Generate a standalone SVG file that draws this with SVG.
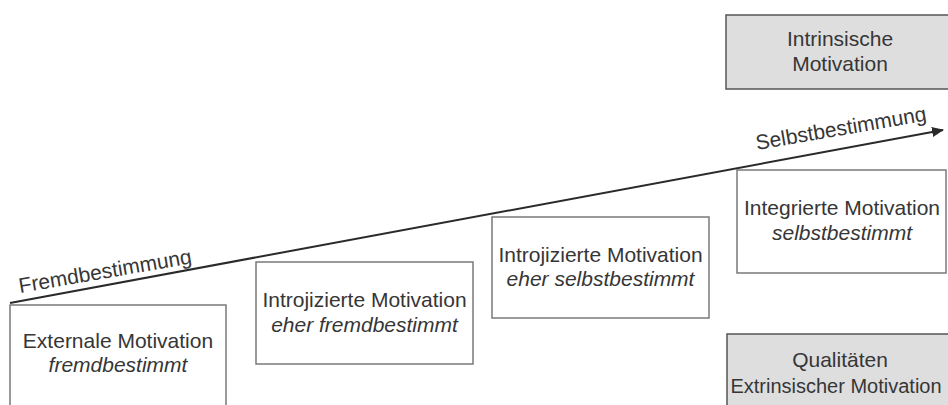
<svg xmlns="http://www.w3.org/2000/svg" width="948" height="405" viewBox="0 0 948 405">
<style>
  .box { fill: #ffffff; stroke: #7a7a7a; stroke-width: 1.5; }
  .gbox { fill: #dedede; stroke: #555555; stroke-width: 1.5; }
  text { font-family: "Liberation Sans", Arial, sans-serif; font-size: 21px; fill: #363636; text-anchor: middle; }
  .it { font-style: italic; }
  .lbl { text-anchor: start; }
</style>
<defs>
  <marker id="arrow" markerWidth="12" markerHeight="10" refX="11" refY="5" orient="auto" markerUnits="userSpaceOnUse">
    <path d="M0,0 L12,5 L0,10 Z" fill="#2a2a2a"/>
  </marker>
</defs>
<rect width="948" height="405" fill="#ffffff"/>
<g id="intrinsisch">
  <rect class="gbox" x="726" y="15" width="230" height="74"/>
  <text x="840" y="46">Intrinsische</text>
  <text x="840" y="71">Motivation</text>
</g>
<g id="integriert">
  <rect class="box" x="737" y="170" width="209" height="103"/>
  <text x="842" y="215">Integrierte Motivation</text>
  <text class="it" x="842" y="240">selbstbestimmt</text>
</g>
<g id="introjiziert-selbst">
  <rect class="box" x="492" y="217" width="217" height="101"/>
  <text x="600.5" y="262">Introjizierte Motivation</text>
  <text class="it" x="600.5" y="286">eher selbstbestimmt</text>
</g>
<g id="introjiziert-fremd">
  <rect class="box" x="256" y="262" width="217" height="102"/>
  <text x="364.5" y="307">Introjizierte Motivation</text>
  <text class="it" x="364.5" y="332">eher fremdbestimmt</text>
</g>
<g id="external">
  <rect class="box" x="10" y="305" width="216" height="110"/>
  <text x="118" y="348">Externale Motivation</text>
  <text class="it" x="118" y="372">fremdbestimmt</text>
</g>
<g id="qualitaeten">
  <rect class="gbox" x="727" y="334" width="230" height="80"/>
  <text x="840" y="367">Qualitäten</text>
  <text x="836" y="393" style="font-size:20px">Extrinsischer Motivation</text>
</g>
<g id="connectors">
  <line x1="10" y1="303" x2="943" y2="130" stroke="#2a2a2a" stroke-width="2" marker-end="url(#arrow)"/>
  <text class="lbl" transform="translate(20,293) rotate(-9.8)">Fremdbestimmung</text>
  <text class="lbl" transform="translate(757,150) rotate(-9.8)">Selbstbestimmung</text>
</g>
</svg>
